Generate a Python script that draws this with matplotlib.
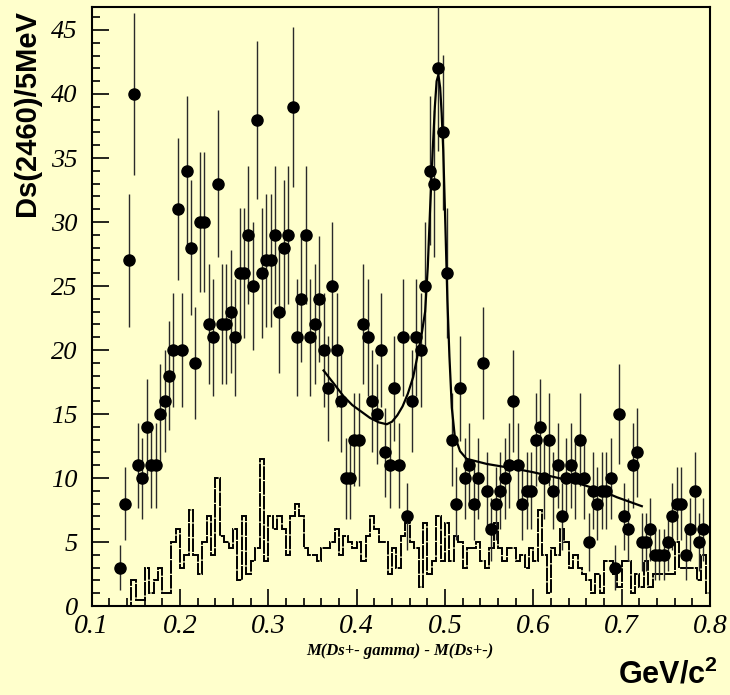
import numpy as np
import matplotlib

matplotlib.use("Agg")
import matplotlib.pyplot as plt
import matplotlib.ticker as mtick

# Ds(2460) candidates per 5 MeV bin, bin centres start at 0.1325 GeV
mass_first = 0.1325
bin_width = 0.005
counts = [
    3, 8, 27, 40, 11, 10, 14, 11, 11, 15,
    16, 18, 20, 31, 20, 34, 28, 19, 30, 30,
    22, 21, 33, 22, 22, 23, 21, 26, 26, 29,
    25, 38, 26, 27, 27, 29, 23, 28, 29, 39,
    21, 24, 29, 21, 22, 24, 20, 17, 25, 20,
    16, 10, 10, 13, 13, 22, 21, 16, 15, 20,
    12, 11, 17, 11, 21, 7, 16, 21, 20, 25,
    34, 33, 42, 37, 26, 13, 8, 17, 10, 11,
    8, 10, 19, 9, 6, 8, 9, 10, 11, 16,
    11, 8, 9, 9, 13, 14, 10, 13, 9, 11,
    7, 10, 11, 10, 13, 10, 5, 9, 8, 9,
    9, 10, 3, 15, 7, 6, 11, 12, 5, 5,
    6, 4, 4, 4, 5, 7, 8, 8, 4, 6,
    9, 5, 6,
]

# sideband histogram, 140 bins from 0.1 to 0.8 GeV
hist_lo, hist_hi = 0.1, 0.8
sideband = [
    0, 0, 0, 0, 0, 0, 0, 0, 0,
    2, 0.5, 0.5, 3, 1, 2, 3, 1, 1,
    5, 6, 3, 4, 7.5, 4, 2.5, 5, 7, 4,
    10, 5.5, 5, 4.5, 6, 2, 7, 2.5, 3.5, 4.5,
    11.5, 3.5, 7, 6, 7, 6, 4, 7, 8, 7,
    4.5, 4, 4, 3.5, 4.5, 4.5, 5, 6, 4, 5.5,
    5, 4.5, 5, 3.5, 5.5, 7, 6, 5, 5, 2.5,
    4.5, 3, 5.5, 6.5, 5, 4.5, 1.5, 6.5, 2.5, 3.5,
    7, 3.5, 6.5, 3.5, 5.5, 5, 3, 4.5, 4.5, 5,
    3.5, 3, 4.5, 6.5, 4.5, 3.5, 4.5, 4.5, 3.5, 4,
    3, 4.5, 3.5, 7.5, 4, 1, 4.5, 4, 6, 5,
    3, 4, 3, 2.5, 2, 1, 2.5, 1, 3.5, 3.5,
    2.5, 1.5, 3.5, 3.5, 1, 2.5, 1.5, 3.5, 1.5, 2.5,
    2.5, 2.5, 2.5, 2.5, 5, 3, 3, 3, 3, 2,
    4, 1,
]

# fit curve
fit_x = [
    0.3625, 0.375, 0.385, 0.395, 0.405, 0.415, 0.425, 0.434, 0.440, 0.446,
    0.452, 0.458, 0.464, 0.469, 0.4737, 0.4775, 0.4805, 0.4831, 0.486, 0.4885,
    0.4905, 0.4925, 0.4945, 0.4962, 0.498, 0.5005, 0.5027, 0.505, 0.5077, 0.511,
    0.517, 0.5244, 0.5473, 0.5775, 0.600, 0.638, 0.6756, 0.6946, 0.7228,
]
fit_y = [
    18.4, 17.3, 16.4, 15.7, 15.2, 14.7, 14.35, 14.2, 14.4, 14.9,
    15.6, 16.6, 17.9, 19.6, 21.3, 23.0, 26.5, 31.0, 35.5, 39.0,
    41.0, 41.5, 40.5, 38.5, 35.6, 29.5, 23.9, 19.5, 15.5, 13.3,
    12.1, 11.5, 11.1, 10.75, 10.45, 9.85, 9.06, 8.5, 7.8,
]

bg_colour = "#ffffcc"

plt.rcParams["mathtext.fontset"] = "custom"
plt.rcParams["mathtext.rm"] = "Liberation Sans"
plt.rcParams["mathtext.bf"] = "Liberation Sans:bold"

fig = plt.figure(figsize=(7.3, 6.95), dpi=100, facecolor=bg_colour)
ax = fig.add_axes([0.1256, 0.128, 0.8470, 0.862], facecolor=bg_colour)

counts = np.array(counts, dtype=float)
centres = mass_first + bin_width * np.arange(len(counts))
errors = np.sqrt(counts)

# sideband histogram
edges = np.linspace(hist_lo, hist_hi, len(sideband) + 1)
ax.stairs(sideband, edges, color="black", linewidth=1.4,
          linestyle=(0, (7, 0.6)), zorder=2)

# data with poisson errors
ax.errorbar(centres, counts, yerr=errors, fmt="o", color="black",
            markersize=8, ecolor="#2a2a2a", elinewidth=1.0, capsize=0,
            zorder=3)

# fit
ax.plot(fit_x, fit_y, color="black", linewidth=1.6, zorder=4)

ax.set_xlim(0.1, 0.8)
ax.set_ylim(0, 46.8)

ax.xaxis.set_major_locator(mtick.MultipleLocator(0.1))
ax.xaxis.set_minor_locator(mtick.MultipleLocator(0.02))
ax.yaxis.set_major_locator(mtick.MultipleLocator(5))
ax.yaxis.set_minor_locator(mtick.MultipleLocator(1))
ax.xaxis.set_major_formatter(mtick.FormatStrFormatter("%.1f"))
ax.tick_params(which="both", direction="in", top=False, right=False,
               width=1.2, color="black")
ax.tick_params(which="major", length=12)
ax.tick_params(which="minor", length=6)
ax.tick_params(axis="x", pad=6)
ax.tick_params(axis="y", pad=10)
for lab in ax.get_xticklabels():
    lab.set_fontfamily("Liberation Serif")
    lab.set_fontstyle("italic")
    lab.set_fontsize(20)
for lab in ax.get_yticklabels():
    lab.set_fontfamily("Liberation Serif")
    lab.set_fontstyle("italic")
    lab.set_fontsize(19)

for spine in ax.spines.values():
    spine.set_linewidth(1.5)

fig.text(27 / 730, 1 - 10 / 695, "Ds(2460)/5MeV", rotation=90,
         ha="center", va="top", fontsize=21, fontweight="bold",
         family="Liberation Sans")
fig.text(400 / 730, 1 - 655 / 695, "M(Ds+- gamma) - M(Ds+-)",
         ha="center", va="baseline", fontsize=12, fontweight="bold",
         fontstyle="italic", family="Liberation Serif")
fig.text(718 / 730, 1 - 684 / 695, r"GeV/c$^{\mathbf{2}}$",
         ha="right", va="baseline", fontsize=22, fontweight="bold",
         family="Liberation Sans")

fig.savefig("out.png", dpi=100, facecolor=bg_colour)
